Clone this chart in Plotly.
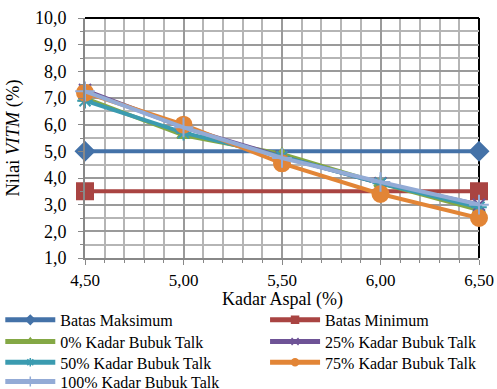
import plotly.graph_objects as go

x_vals = [4.5, 5.0, 5.5, 6.0, 6.5]
x_limits = [4.5, 6.5]
batas_maks = [5.0, 5.0]
batas_min = [3.5, 3.5]
talk_0 = [7.0, 5.6, 4.9, 3.8, 2.8]
talk_25 = [7.3, 5.9, 4.8, 3.8, 3.0]
talk_50 = [6.9, 5.7, 4.8, 3.8, 2.9]
talk_75 = [7.2, 6.0, 4.55, 3.4, 2.5]
talk_100 = [7.25, 5.9, 4.75, 3.85, 3.0]

FONT = "Liberation Serif"
series = [
    ("Batas Maksimum", x_limits, batas_maks, "#4472a8", "diamond", 14),
    ("Batas Minimum", x_limits, batas_min, "#a94442", "square", 16),
    ("0% Kadar Bubuk Talk", x_vals, talk_0, "#84a845", "triangle-up", 11),
    ("25% Kadar Bubuk Talk", x_vals, talk_25, "#6e5396", "x-thin", 12),
    ("50% Kadar Bubuk Talk", x_vals, talk_50, "#3b9bb0", "asterisk", 13),
    ("75% Kadar Bubuk Talk", x_vals, talk_75, "#e28536", "circle", 16),
    ("100% Kadar Bubuk Talk", x_vals, talk_100, "#93abd6", "cross-thin", 14),
]
legend_slots = [(0, 0), (1, 0), (0, 1), (1, 1), (0, 2), (1, 2), (0, 3)]

fig = go.Figure()
for name, xs, ys, col, sym, sz in series:
    fig.add_trace(go.Scatter(
        x=xs, y=ys, name=name, mode="lines+markers", showlegend=False,
        line=dict(color=col, width=4),
        marker=dict(symbol=sym, size=sz, color=col, line=dict(color=col, width=2)),
        cliponaxis=False,
    ))

col_x = [-0.215, 0.457]
row_y = [-0.258, -0.348, -0.435, -0.515]
legend_layouts = {}
for i, ((name, xs, ys, col, sym, sz), (c, r)) in enumerate(zip(series, legend_slots)):
    key = "legend" if i == 0 else f"legend{i + 1}"
    fig.add_trace(go.Scatter(
        x=[None], y=[None], name=name, mode="lines+markers", legend=key,
        line=dict(color=col, width=5),
        marker=dict(symbol=sym, size=7, color=col, line=dict(color=col, width=1.5)),
    ))
    legend_layouts[key] = dict(x=col_x[c], y=row_y[r], xanchor="left", yanchor="middle",
                               itemwidth=50, font=dict(family=FONT, size=16),
                               bgcolor="rgba(0,0,0,0)")

fig.update_layout(
    width=497, height=389,
    margin=dict(l=85, r=18, t=18, b=131, autoexpand=False),
    paper_bgcolor="white", plot_bgcolor="white",
    separators=", ",
    font=dict(family=FONT, size=18, color="black"),
    xaxis=dict(range=[4.5, 6.5], dtick=0.5, tick0=4.5, tickformat=".2f",
               automargin=False,
               showgrid=True, gridcolor="#9a9a9a", gridwidth=1.5,
               minor=dict(dtick=0.1, showgrid=True, gridcolor="#b5b5b5", gridwidth=1.5,
                          ticks="outside", ticklen=3, tickcolor="#888"),
               showline=True, linecolor="#888", linewidth=2,
               ticks="outside", ticklen=5, tickcolor="#888", ticklabelstandoff=1,
               tickfont=dict(family=FONT, size=17), zeroline=False),
    yaxis=dict(range=[1, 10], dtick=1, tick0=1, tickformat=".1f",
               automargin=False,
               showgrid=True, gridcolor="#9a9a9a", gridwidth=1.5,
               minor=dict(dtick=0.5, showgrid=True, gridcolor="#b5b5b5", gridwidth=1.5,
                          ticks="outside", ticklen=3, tickcolor="#888"),
               showline=True, linecolor="#888", linewidth=2,
               ticks="outside", ticklen=5, tickcolor="#888", ticklabelstandoff=8,
               tickfont=dict(family=FONT, size=18), zeroline=False,
               title=dict(text="Nilai <i>VITM</i> (%)", font=dict(family=FONT, size=18.5), standoff=10)),
    annotations=[
        dict(text="Kadar Aspal (%)", xref="paper", yref="paper", x=0.5, y=-0.172,
             xanchor="center", yanchor="middle", showarrow=False,
             font=dict(family=FONT, size=18, color="black")),
    ],
    shapes=[
        dict(type="line", xref="paper", yref="paper", x0=0, x1=1, y0=1, y1=1,
             line=dict(color="black", width=2), layer="above"),
        dict(type="line", xref="paper", yref="paper", x0=1, x1=1, y0=0, y1=1,
             line=dict(color="black", width=2), layer="below"),
    ],
)
fig.update_layout(**legend_layouts)

fig.write_html("out.html")
